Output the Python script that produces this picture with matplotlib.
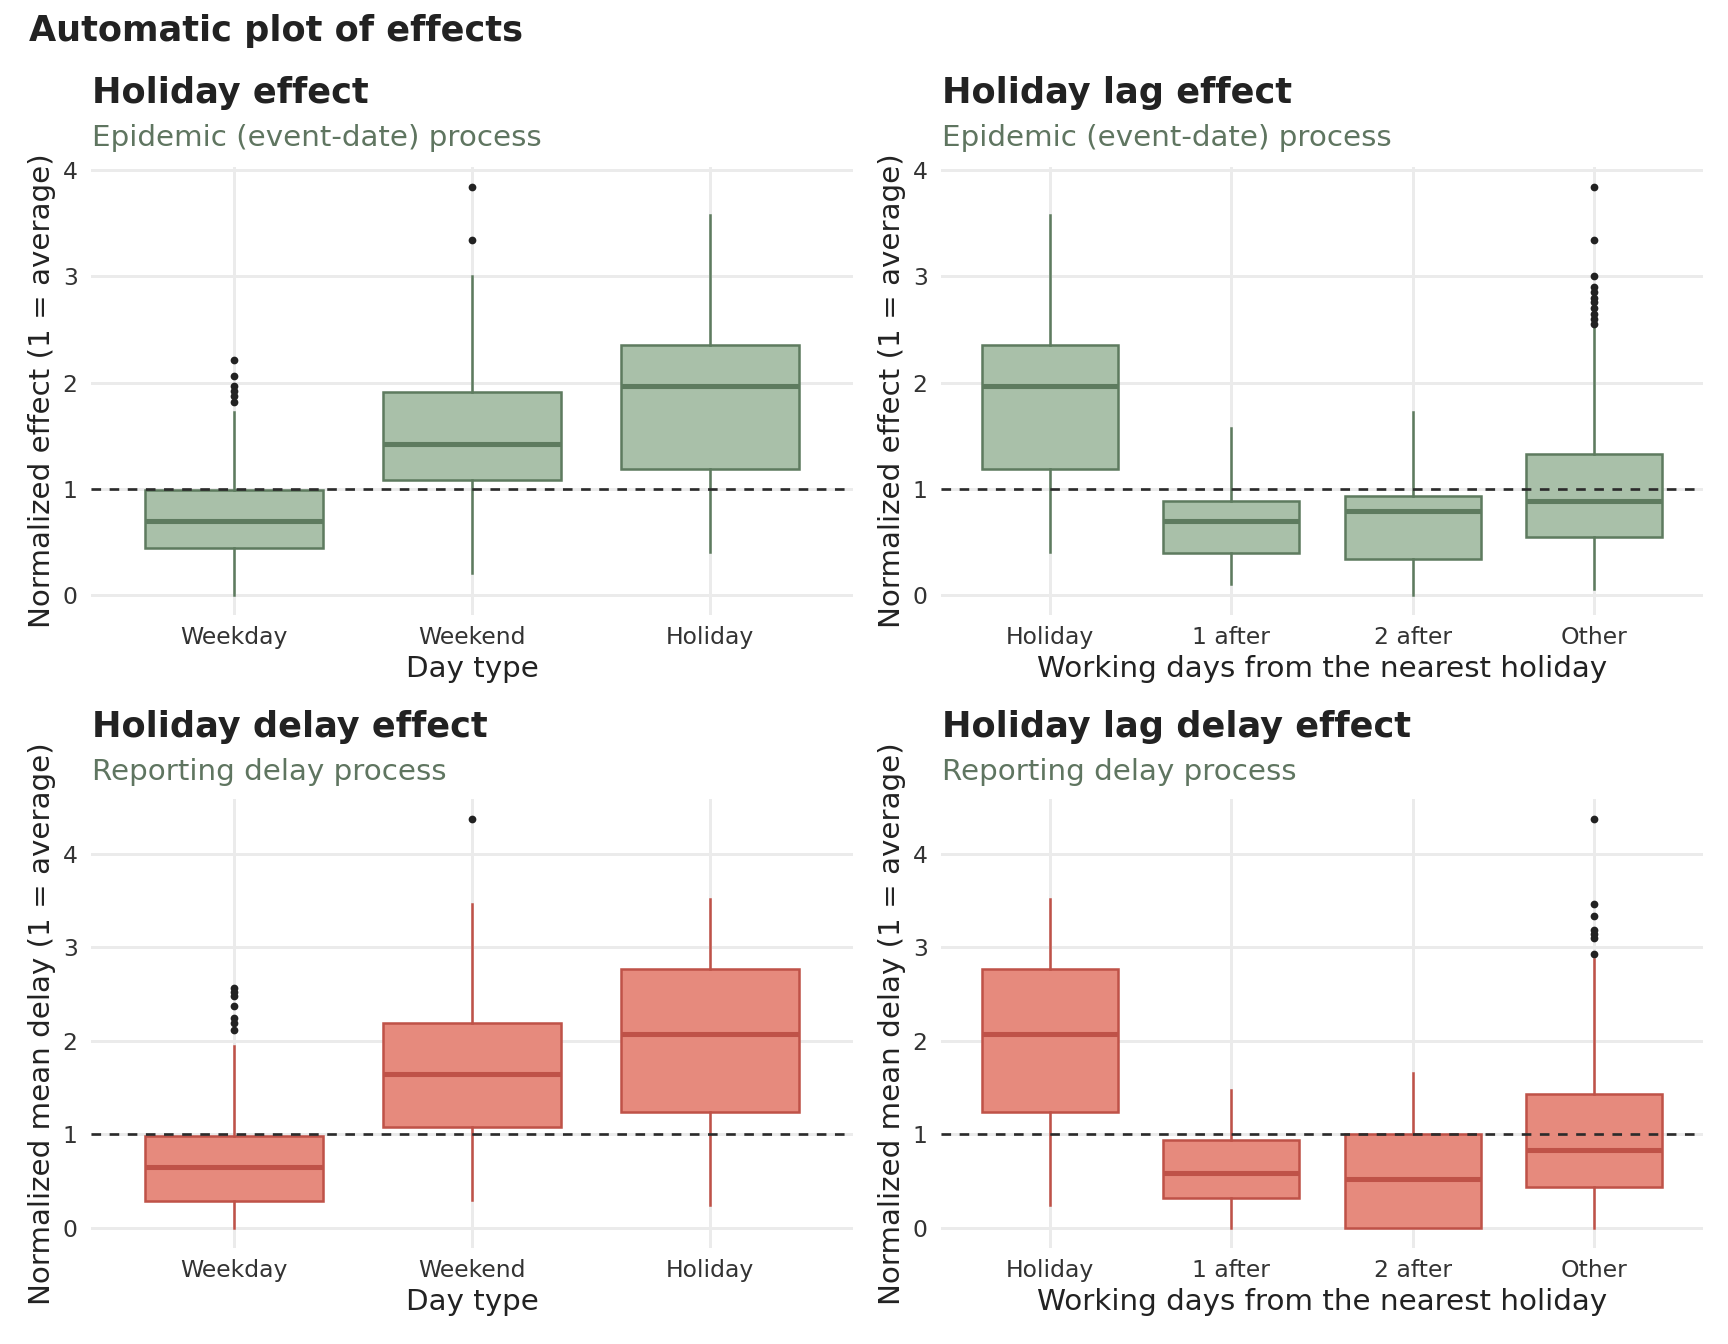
import numpy as np
import matplotlib
matplotlib.use("Agg")
import matplotlib.pyplot as plt

plt.rcParams['font.family'] = ['DejaVu Sans']

# ---- data ----
day_types = ["Weekday", "Weekend", "Holiday"]
lag_types = ["Holiday", "1 after", "2 after", "Other"]

# Holiday effect (epidemic process)
eff_day_q1 = [0.44, 1.085, 1.18]
eff_day_med = [0.69, 1.425, 1.965]
eff_day_q3 = [0.985, 1.915, 2.355]
eff_day_lo = [0.0, 0.20, 0.40]
eff_day_hi = [1.72, 3.0, 3.58]
eff_day_out = [[2.21, 2.06, 1.97, 1.92, 1.87, 1.82], [3.84, 3.345], []]

# Holiday lag effect (epidemic process)
eff_lag_q1 = [1.18, 0.39, 0.34, 0.54]
eff_lag_med = [1.965, 0.69, 0.785, 0.885]
eff_lag_q3 = [2.355, 0.885, 0.93, 1.33]
eff_lag_lo = [0.40, 0.10, 0.0, 0.055]
eff_lag_hi = [3.58, 1.57, 1.72, 2.51]
eff_lag_out = [[], [], [], [3.84, 3.345, 3.0, 2.90, 2.855, 2.80, 2.755,
                            2.70, 2.65, 2.60, 2.55]]

# Holiday delay effect (reporting delay)
del_day_q1 = [0.29, 1.08, 1.235]
del_day_med = [0.645, 1.64, 2.07]
del_day_q3 = [0.985, 2.195, 2.765]
del_day_lo = [0.0, 0.30, 0.24]
del_day_hi = [1.94, 3.46, 3.52]
del_day_out = [[2.565, 2.52, 2.475, 2.37, 2.24, 2.195, 2.115], [4.37], []]

# Holiday lag delay effect (reporting delay)
del_lag_q1 = [1.235, 0.32, 0.0, 0.43]
del_lag_med = [2.07, 0.58, 0.525, 0.835]
del_lag_q3 = [2.765, 0.94, 1.005, 1.425]
del_lag_lo = [0.24, 0.0, 0.0, 0.0]
del_lag_hi = [3.52, 1.47, 1.65, 2.88]
del_lag_out = [[], [], [], [4.37, 3.465, 3.335, 3.19, 3.145, 3.10, 2.925]]

GREEN_FILL = "#a9c0a9"
GREEN_EDGE = "#5e7b5f"
RED_FILL = "#e68a7d"
RED_EDGE = "#bf5248"
TXT = "#222222"
TICK = "#333333"
SUB = "#5f7560"
GRID = "#ebebeb"

W, H = 1728, 1344
fig = plt.figure(figsize=(9, 7), dpi=192)


def px_rect(x0, y0, x1, y1):
    return [x0 / W, 1 - y1 / H, (x1 - x0) / W, (y1 - y0) / H]


def draw_panel(rect, cats, q1, med, q3, lo, hi, out, fill, edge,
               title, subtitle, xlabel, ylabel, title_base, sub_base):
    ax = fig.add_axes(px_rect(*rect))
    n = len(cats)
    stats = []
    for i in range(n):
        stats.append(dict(q1=q1[i], med=med[i], q3=q3[i], whislo=lo[i],
                          whishi=hi[i], fliers=out[i]))
    ax.bxp(stats, positions=range(n), widths=0.75, patch_artist=True,
           showcaps=False,
           boxprops=dict(facecolor=fill, edgecolor=edge, linewidth=0.95),
           medianprops=dict(color=edge, linewidth=1.9, solid_capstyle="butt"),
           whiskerprops=dict(color=edge, linewidth=0.95),
           flierprops=dict(marker="o", markersize=2.9, markerfacecolor=TXT,
                           markeredgecolor="none"),
           zorder=2)
    ax.axhline(1, color="#2b2b2b", linestyle=(0, (3.6, 3.2)), linewidth=1.0,
               zorder=3)

    allv = lo + hi + [v for o in out for v in o]
    vmin, vmax = min(allv), max(allv)
    span = vmax - vmin
    ax.set_ylim(vmin - 0.05 * span, vmax + 0.05 * span)
    ax.set_xlim(-0.6, n - 0.4)
    ax.set_yticks(range(0, 5))
    ax.set_xticks(range(n))
    ax.set_xticklabels(cats)

    ax.grid(True, color=GRID, linewidth=1.1, zorder=0)
    ax.set_axisbelow(True)
    for s in ax.spines.values():
        s.set_visible(False)
    ax.tick_params(length=0, labelsize=8.8, labelcolor=TICK)
    ax.tick_params(axis="x", pad=4.3)
    ax.tick_params(axis="y", pad=5)
    ax.set_xlabel(xlabel, fontsize=11, color=TXT, labelpad=2.2)
    ax.set_ylabel(ylabel, fontsize=11, color=TXT, labelpad=2.5)

    x0 = (rect[0] + 1) / W
    fig.text(x0, 1 - title_base / H, title, fontsize=13.2, fontweight="bold",
             color=TXT, va="baseline", ha="left")
    fig.text(x0, 1 - sub_base / H, subtitle, fontsize=11, color=SUB,
             va="baseline", ha="left")
    return ax


fig.text(29 / W, 1 - 41 / H, "Automatic plot of effects", fontsize=13.2,
         fontweight="bold", color=TXT, va="baseline", ha="left")

draw_panel((91, 167, 853, 615), day_types, eff_day_q1, eff_day_med,
           eff_day_q3, eff_day_lo, eff_day_hi, eff_day_out,
           GREEN_FILL, GREEN_EDGE, "Holiday effect",
           "Epidemic (event-date) process", "Day type",
           "Normalized effect (1 = average)", 103.5, 145.5)
draw_panel((941, 167, 1703, 615), lag_types, eff_lag_q1, eff_lag_med,
           eff_lag_q3, eff_lag_lo, eff_lag_hi, eff_lag_out,
           GREEN_FILL, GREEN_EDGE, "Holiday lag effect",
           "Epidemic (event-date) process",
           "Working days from the nearest holiday",
           "Normalized effect (1 = average)", 103.5, 145.5)
draw_panel((91, 799, 853, 1248), day_types, del_day_q1, del_day_med,
           del_day_q3, del_day_lo, del_day_hi, del_day_out,
           RED_FILL, RED_EDGE, "Holiday delay effect",
           "Reporting delay process", "Day type",
           "Normalized mean delay (1 = average)", 736.5, 779.5)
draw_panel((941, 799, 1703, 1248), lag_types, del_lag_q1, del_lag_med,
           del_lag_q3, del_lag_lo, del_lag_hi, del_lag_out,
           RED_FILL, RED_EDGE, "Holiday lag delay effect",
           "Reporting delay process",
           "Working days from the nearest holiday",
           "Normalized mean delay (1 = average)", 736.5, 779.5)

fig.savefig("out.png", dpi=192, facecolor="white")
